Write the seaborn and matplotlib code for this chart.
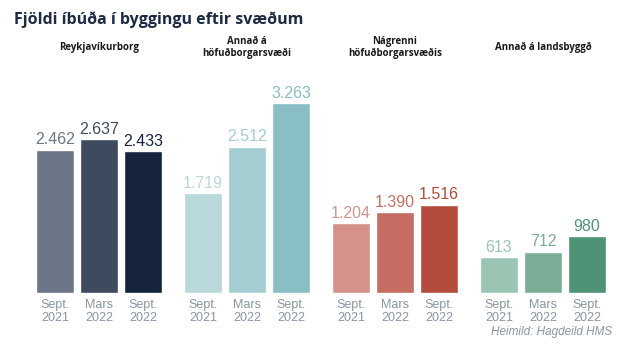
"""Fjöldi íbúða í byggingu eftir svæðum - grouped bars, one panel per region"""
import matplotlib as mpl
mpl.use('Agg')
import matplotlib.pyplot as plt

import numpy as np
import pandas as pd
import seaborn as sns

# data
regions = ['Reykjavíkurborg', 'Annað á\nhöfuðborgarsvæði',
           'Nágrenni\nhöfuðborgarsvæðis', 'Annað á landsbyggð']
periods = ['Sept.\n2021', 'Mars\n2022', 'Sept.\n2022']
reykjavik = [2462, 2637, 2433]
hofudborg = [1719, 2512, 3263]
nagrenni = [1204, 1390, 1516]
landsbyggd = [613, 712, 980]
values = [reykjavik, hofudborg, nagrenni, landsbyggd]

bar_colors = [['#6c7687', '#3e4a5e', '#15233d'],
              ['#b9d8da', '#a3cdd1', '#88bec4'],
              ['#d4928a', '#c56d62', '#b34c3d'],
              ['#9ac5b2', '#79ad95', '#4f9377']]


def fmt(v):
    """Icelandic thousands separator"""
    return f'{v:,}'.replace(',', '.')


sns.set_style('white')
plt.rcParams.update({'font.family': ['Liberation Sans', 'DejaVu Sans']})

fig, axes = plt.subplots(1, 4, figsize=(6.26, 3.5), dpi=100, sharey=True)
fig.subplots_adjust(left=0.053, right=0.973, bottom=0.163, top=0.80, wspace=0.12)

for ax, region, vals, cols in zip(axes, regions, values, bar_colors):
    df = pd.DataFrame({'period': periods, 'value': vals})
    sns.barplot(data=df, x='period', y='value', hue='period', palette=cols,
                legend=False, width=0.86, ax=ax, saturation=1)
    for patch, v, c in zip(ax.patches, vals, cols):
        ax.text(patch.get_x() + patch.get_width() / 2, v + 40, fmt(v),
                ha='center', va='bottom', fontsize=11.5, color=c)
    ax.text(0.5, 1.10, region, transform=ax.transAxes, ha='center', va='center',
            fontsize=7, fontweight='bold', color='#1a1a1a', family='Open Sans',
            linespacing=1.1)
    ax.set_ylim(0, 3830)
    ax.set_xlim(-0.5, 2.5)
    ax.set_xlabel('')
    ax.set_ylabel('')
    ax.set_yticks([])
    ax.tick_params(axis='x', length=0, pad=4, labelsize=9, labelcolor='#8a94a3')
    for lbl in ax.get_xticklabels():
        lbl.set_linespacing(1.2)
    sns.despine(ax=ax, left=True, bottom=True)

fig.text(0.022, 0.945, 'Fjöldi íbúða í byggingu eftir svæðum', fontsize=11.5,
         fontweight='bold', color='#1d2a45', family='Open Sans', va='center')
fig.text(0.978, 0.05, 'Heimild: Hagdeild HMS', fontsize=8.5, style='italic',
         color='#8a94a3', ha='right', va='center')

fig.savefig('out.png', dpi=100)
